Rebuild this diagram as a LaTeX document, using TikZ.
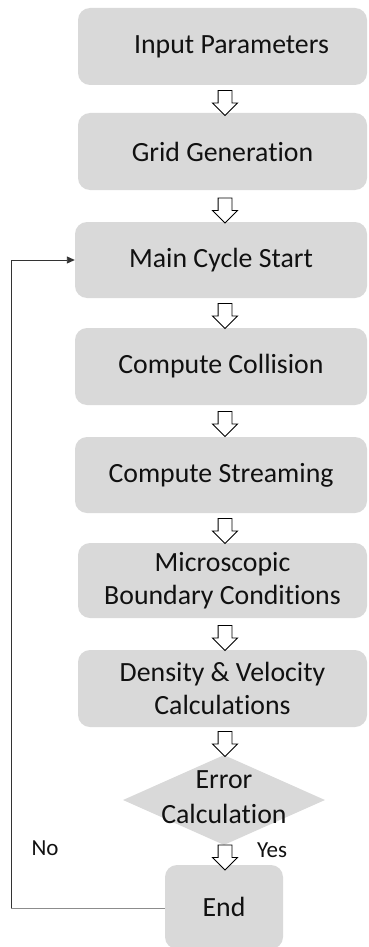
\documentclass[tikz,border=0pt]{standalone}
\usepackage{fontspec}
\setmainfont{Carlito}[Ligatures=NoCommon]
\usetikzlibrary{shapes.geometric,shapes.arrows,arrows.meta,calc}
\definecolor{boxgray}{HTML}{D9D9D9}
\definecolor{txt}{HTML}{111111}
\begin{document}
\begin{tikzpicture}[x=1pt,y=1pt,
  procbox/.style={rectangle,rounded corners=12pt,fill=boxgray,draw=none,
    text=txt,align=center,font=\fontsize{27.8}{33}\selectfont,inner sep=0pt},
  plaintext/.style={text=txt,align=center,font=\fontsize{27.8}{35}\selectfont,inner sep=0pt},
  blockarrow/.style={single arrow,draw=black,fill=white,line width=0.9pt,
    shape border rotate=270,inner sep=6.5pt,single arrow head extend=5.5pt,
    minimum height=25pt,single arrow tip angle=90},
  lbl/.style={text=txt,font=\fontsize{23}{27}\selectfont,inner sep=0pt}]
\useasboundingbox (0,0) rectangle (369,-947);
\node[procbox,minimum width=289pt,minimum height=77pt] (b1) at (222.5,-46.5) {\hspace*{18pt}Input Parameters};
\node[procbox,minimum width=289pt,minimum height=77pt] (b2) at (222.5,-151.5) {Grid Generation};
\node[procbox,minimum width=292pt,minimum height=76pt] (b3) at (221,-260) {Main Cycle Start};
\node[procbox,minimum width=292pt,minimum height=77pt] (b4) at (221,-366.5) {Compute Collision};
\node[procbox,minimum width=292pt,minimum height=76pt] (b5) at (221,-475) {Compute Streaming};
\node[procbox,minimum width=289pt,minimum height=75pt] (b6) at (222.5,-580.5) {Microscopic\\Boundary Conditions};
\node[procbox,minimum width=289pt,minimum height=77pt] (b7) at (222.5,-688.5) {Density \& Velocity\\Calculations};
\node[diamond,fill=boxgray,draw=none,minimum width=202pt,minimum height=90pt,inner sep=0pt,aspect=2.24] (dia) at (224,-800) {};
\node[plaintext] (diat) at ([yshift=3pt]dia.center) {Error\\Calculation};
\node[procbox,minimum width=118pt,minimum height=84pt] (end) at (224,-907) {End};
% block arrows
\node[blockarrow] (a1) at (225,-99.5) {};
\node[blockarrow] (a2) at (225,-207) {};
\node[blockarrow] (a3) at (225,-312.5) {};
\node[blockarrow] (a4) at (225,-420.5) {};
\node[blockarrow] (a5) at (225,-527.5) {};
\node[blockarrow] (a6) at (225,-634.5) {};
\node[blockarrow] (a7) at (225,-740.5) {};
\node[blockarrow] (a8) at (225,-854) {};
% labels
\node[lbl] (no) at (45,-848) {No};
\node[lbl] (yes) at (272,-850) {Yes};
% feedback loop
\coordinate (corner) at (11,-908);
\draw[line width=0.9pt,draw=black!45] (end.west |- corner) -- (corner);
\draw[line width=0.9pt,draw=black!80,-{Triangle[length=8pt,width=7pt]}] (corner) |- (b3.west);
\end{tikzpicture}
\end{document}
